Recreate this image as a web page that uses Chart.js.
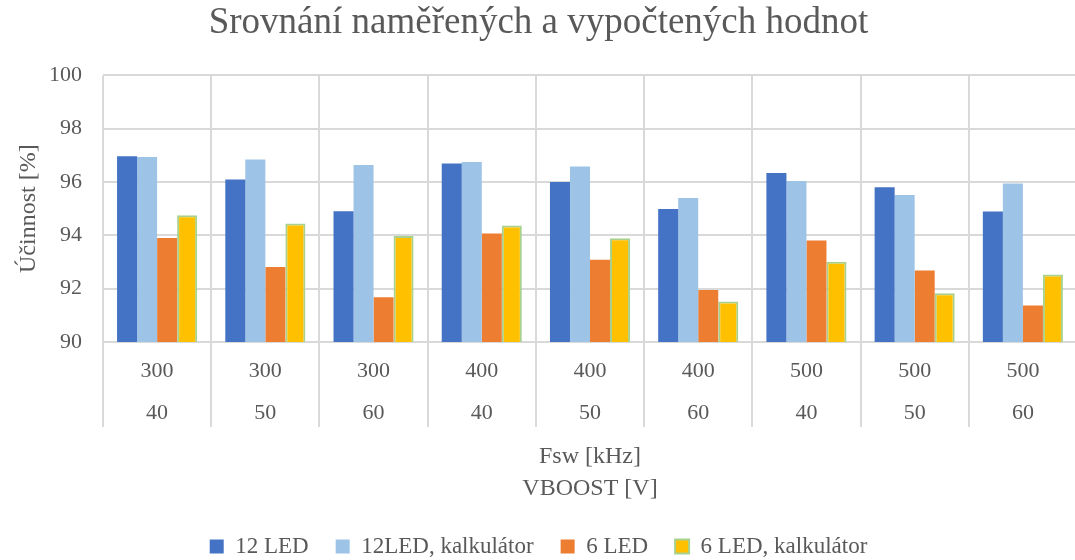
<!DOCTYPE html>
<html>
<head>
<meta charset="utf-8">
<title>Srovnání naměřených a vypočtených hodnot</title>
<script src="https://cdn.jsdelivr.net/npm/chart.js@4/dist/chart.umd.min.js"></script>
<style>
  html, body { margin: 0; padding: 0; background: #fff; }
  .wrap { width: 1075px; height: 560px; overflow: hidden; }
</style>
</head>
<body>
<div class="wrap">
  <canvas id="effChart" width="1079" height="568"></canvas>
</div>
<script>
// Switching frequency and boost voltage for every measurement
const fsw = ['300', '300', '300', '400', '400', '400', '500', '500', '500']
const vboost = ['40', '50', '60', '40', '50', '60', '40', '50', '60']

// Efficiency in percent
const led12 = [96.97, 96.09, 94.9, 96.69, 96.0, 94.99, 96.34, 95.8, 94.89]
const led12Calc = [96.94, 96.84, 96.64, 96.75, 96.58, 95.4, 96.04, 95.51, 95.94]
const led6 = [93.9, 92.81, 91.68, 94.07, 93.08, 91.95, 93.81, 92.68, 91.37]
const led6Calc = [94.75, 94.44, 93.97, 94.37, 93.89, 91.52, 93.01, 91.83, 92.53]

const yTicks = [90, 92, 94, 96, 98, 100]

// Two line category labels: frequency on top, voltage below
const labels = fsw.map((f, i) => [f, vboost[i]])

const textColor = '#595959'
const gridColor = '#D9D9D9'
const serif = '"Liberation Serif", "Times New Roman", serif'

Chart.defaults.font.family = serif
Chart.defaults.color = textColor

const ctx = document.getElementById('effChart').getContext('2d')

new Chart(ctx, {
  type: 'bar',
  data: {
    labels: labels,
    datasets: [
      { label: '12 LED', data: led12, backgroundColor: '#4472C4', borderWidth: 0 },
      { label: '12LED, kalkulátor', data: led12Calc, backgroundColor: '#9DC3E6', borderWidth: 0 },
      { label: '6 LED', data: led6, backgroundColor: '#ED7D31', borderWidth: 0 },
      {
        label: '6 LED, kalkulátor',
        data: led6Calc,
        backgroundColor: '#FFC000',
        borderColor: '#A9D18E',
        borderWidth: 2
      }
    ]
  },
  options: {
    responsive: false,
    animation: false,
    devicePixelRatio: 1,
    categoryPercentage: 0.74,
    barPercentage: 1.0,
    layout: {
      padding: { left: 0, right: 2, top: 0, bottom: 0 }
    },
    plugins: {
      title: {
        display: true,
        text: 'Srovnání naměřených a vypočtených hodnot',
        color: textColor,
        font: { size: 37, weight: 'normal', family: serif },
        padding: { top: 1, bottom: 30 }
      },
      legend: {
        position: 'bottom',
        labels: {
          boxWidth: 14,
          boxHeight: 14,
          padding: 27,
          color: textColor,
          font: { size: 23, family: serif }
        }
      },
      tooltip: { enabled: false }
    },
    scales: {
      x: {
        // long tick marks split the two label rows into columns
        grid: {
          color: gridColor,
          lineWidth: 2,
          offset: true,
          drawTicks: true,
          tickLength: 85
        },
        border: { color: gridColor, width: 2 },
        ticks: {
          padding: -77,
          color: textColor,
          font: { size: 22, lineHeight: 1.91, family: serif },
          maxRotation: 0,
          autoSkip: false
        },
        title: {
          display: true,
          text: ['Fsw [kHz]', 'VBOOST [V]'],
          color: textColor,
          font: { size: 24, lineHeight: 1.33, family: serif },
          padding: { top: 83.7, bottom: 3.5 }
        }
      },
      y: {
        min: yTicks[0],
        max: yTicks[yTicks.length - 1],
        grid: { color: gridColor, lineWidth: 2, drawTicks: false },
        border: { display: false },
        afterBuildTicks: axis => {
          axis.ticks = yTicks.map(v => ({ value: v }))
        },
        ticks: {
          padding: 21,
          color: textColor,
          font: { size: 22, family: serif }
        },
        title: {
          display: true,
          text: 'Účinnost [%]',
          color: textColor,
          font: { size: 24, family: serif },
          padding: { top: 14.6, bottom: -15.4 }
        }
      }
    }
  }
})
</script>
</body>
</html>
